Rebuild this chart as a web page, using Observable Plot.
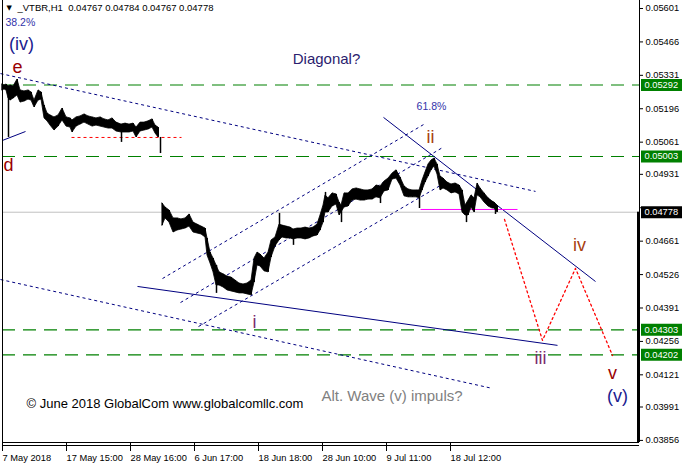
<!DOCTYPE html>
<html><head><meta charset="utf-8">
<script src="https://cdn.jsdelivr.net/npm/d3@7"></script>
<script src="https://cdn.jsdelivr.net/npm/@observablehq/plot@0.6"></script>
<style>html,body{margin:0;padding:0;background:#fff}svg{display:block}</style>
</head><body><div id="chart"></div>
<script>
// ---- price data (H1 bars, sampled envelope) ----
const bar = [2,4,6,8,10,13,17,20,24,28,31,34,38,41,44,47,50,54,58,62,66,70,72,76,80,84,88,92,96,100,104,108,112,116,121,125,129,133,136,140,144,148,152,155,158,
162,165,169,173,177,181,185,189,193,197,201,205,207,210,213,216,219,223,227,231,235,239,243,247,251,254,257,260,264,268,271,275,279,282,286,290,293,297,301,305,309,313,317,320,323,325,328,332,336,339,341,344,348,352,356,360,364,368,372,376,380,384,388,392,396,400,404,408,412,416,419,422,425,428,431,434,437,440,443,447,451,455,459,462,465,468,471,474,477,480,484,488,492,494,497];
const high = [0.05294,0.05290,0.05294,0.05286,0.05290,0.05286,0.05314,0.05270,0.05266,0.05270,0.05262,0.05229,0.05270,0.05262,0.05209,0.05177,0.05169,0.05161,0.05169,0.05197,0.05161,0.05157,0.05149,0.05161,0.05165,0.05173,0.05165,0.05161,0.05157,0.05161,0.05153,0.05149,0.05157,0.05140,0.05132,0.05136,0.05132,0.05136,0.05120,0.05140,0.05140,0.05145,0.05153,0.05128,0.05120,
0.04813,0.04797,0.04785,0.04753,0.04753,0.04749,0.04753,0.04769,0.04736,0.04728,0.04720,0.04712,0.04672,0.04615,0.04591,0.04563,0.04535,0.04527,0.04518,0.04514,0.04502,0.04490,0.04486,0.04490,0.04502,0.04591,0.04615,0.04607,0.04591,0.04615,0.04664,0.04676,0.04728,0.04724,0.04720,0.04716,0.04708,0.04712,0.04712,0.04716,0.04712,0.04716,0.04728,0.04765,0.04805,0.04846,0.04834,0.04854,0.04850,0.04817,0.04805,0.04854,0.04854,0.04870,0.04874,0.04870,0.04866,0.04866,0.04870,0.04886,0.04882,0.04902,0.04914,0.04934,0.04947,0.04918,0.04882,0.04870,0.04866,0.04866,0.04866,0.04906,0.04939,0.04971,0.04987,0.04995,0.04971,0.04922,0.04914,0.04898,0.04890,0.04894,0.04886,0.04866,0.04805,0.04825,0.04846,0.04834,0.04894,0.04874,0.04854,0.04834,0.04821,0.04817,0.04805];
const low = [0.05270,0.05274,0.05270,0.05237,0.05229,0.05237,0.05250,0.05221,0.05225,0.05233,0.05229,0.05201,0.05229,0.05233,0.05157,0.05145,0.05128,0.05108,0.05124,0.05149,0.05124,0.05120,0.05100,0.05124,0.05132,0.05140,0.05132,0.05124,0.05128,0.05124,0.05120,0.05116,0.05116,0.05104,0.05100,0.05100,0.05100,0.05104,0.05080,0.05104,0.05108,0.05112,0.05120,0.05096,0.05080,
0.04724,0.04753,0.04736,0.04696,0.04704,0.04708,0.04712,0.04720,0.04696,0.04692,0.04688,0.04676,0.04603,0.04571,0.04535,0.04482,0.04482,0.04474,0.04462,0.04458,0.04454,0.04450,0.04450,0.04446,0.04442,0.04494,0.04563,0.04559,0.04539,0.04535,0.04595,0.04640,0.04664,0.04676,0.04672,0.04672,0.04668,0.04672,0.04672,0.04668,0.04672,0.04680,0.04684,0.04704,0.04736,0.04777,0.04777,0.04801,0.04809,0.04765,0.04777,0.04797,0.04801,0.04825,0.04829,0.04825,0.04825,0.04829,0.04829,0.04838,0.04834,0.04862,0.04866,0.04910,0.04914,0.04886,0.04842,0.04838,0.04838,0.04838,0.04834,0.04866,0.04898,0.04922,0.04947,0.04963,0.04930,0.04866,0.04874,0.04866,0.04854,0.04858,0.04850,0.04777,0.04765,0.04765,0.04797,0.04777,0.04846,0.04838,0.04817,0.04801,0.04793,0.04793,0.04777];
const secondLegStart = 162;
// long wicks
const wickBar  = [8,121,160,216,279,293,325,341,380,419,466,495];
const wickHigh = [0.05286,0.05132,0.05080,0.04563,0.04773,0.04708,0.04858,0.04805,0.04870,0.04866,0.04797,0.04805];
const wickLow  = [0.05080,0.05060,0.05015,0.04450,0.04680,0.04644,0.04790,0.04736,0.04813,0.04793,0.04736,0.04769];

// ---- price levels & axes ----
const levels = [0.05292, 0.05003, 0.04303, 0.04202];
const lastPrice = 0.04778;
const priceTicks = [0.05601,0.05466,0.05331,0.05196,0.05061,0.04931,0.04796,0.04661,0.04526,0.04391,0.04256,0.04121,0.03991,0.03856];
const hiddenTick = 0.04796; // covered by the last-price box
const timeTickBars = [3,67,131,195,259,323,387,451];
const timeTickLabels = ["7 May 2018","17 May 15:00","28 May 16:00","6 Jun 17:00","18 Jun 18:00","28 Jun 10:00","9 Jul 11:00","18 Jul 12:00"];
const header = "_VTBR,H1  0.04767 0.04784 0.04767 0.04778";

// ---- drawn objects (bar, price) ----
const dottedLines = [[0,0.05338,535,0.04862],[0,0.04506,492,0.04066],[162,0.04510,423,0.05132],[180,0.04413,442,0.05039],[198,0.04316,445,0.04898]];
const solidLines = [[137,0.04478,557,0.04240],[383,0.05161,595,0.04498],[2,0.05068,25,0.05104]];
const redRange = [[71,0.05080,181,0.05080]];
const magentaRange = [[420,0.04789,517,0.04789]];
const projBars = [504,542,575,612];
const projPrices = [0.04749,0.04260,0.04551,0.04199];

// ---- labels ----
const waveText  = ["(iv)","(v)","e","d","v","ii","iv","i","iii"];
const waveBars  = [21,617,17,8,612,430,579,254,540];
const wavePrice = [0.05456,0.04033,0.05363,0.04967,0.04126,0.05080,0.04644,0.04332,0.04187];

const candles = bar.map((b,i)=>({bar:b, high:high[i], low:low[i], leg: b >= secondLegStart ? 2 : 1}));
const wicks = wickBar.map((b,i)=>({bar:b, high:wickHigh[i], low:wickLow[i]}));
const toLink = a => a.map(([x1,y1,x2,y2])=>({x1,y1,x2,y2}));
const proj = projBars.map((b,i)=>({bar:b, price:projPrices[i]}));
const waves = waveText.map((t,i)=>({t, bar:waveBars[i], price:wavePrice[i]}));
const fmt = d3.format(".5f");
const yMin = 0.038476, yMax = 0.056333;
const navy = "#000080";
const F = "Liberation Sans, Arial, sans-serif";

const chart = Plot.plot({
  width: 682, height: 469,
  marginLeft: 2, marginRight: 43, marginTop: 0, marginBottom: 27,
  x: {type: "linear", domain: [2, 639], axis: null},
  y: {domain: [yMin, yMax], axis: null},
  style: {fontFamily: F, fontSize: "9.3px", background: "#fff", color: "#000", overflow: "visible"},
  marks: [
    Plot.axisY(priceTicks, {anchor: "right", tickSize: 3, tickPadding: 3, tickFormat: d => d === hiddenTick ? "" : fmt(d), label: null, fontSize: 9.3}),
    Plot.axisX(timeTickBars, {anchor: "bottom", tickSize: 9, tickPadding: 3, textAnchor: "start", dx: -1,
      tickFormat: d => timeTickLabels[timeTickBars.indexOf(d)], label: null, fontSize: 9.3}),
    Plot.ruleY([lastPrice], {stroke: "#c0c0c0"}),
    Plot.ruleY(levels, {stroke: "#008000", strokeDasharray: "13,8", strokeWidth: 1.2}),
    Plot.link(toLink(dottedLines), {x1: "x1", y1: "y1", x2: "x2", y2: "y2", stroke: navy, strokeDasharray: "3,3"}),
    Plot.link(toLink(solidLines), {x1: "x1", y1: "y1", x2: "x2", y2: "y2", stroke: navy}),
    Plot.link(toLink(redRange), {x1: "x1", y1: "y1", x2: "x2", y2: "y2", stroke: "#ff0000", strokeDasharray: "3,3"}),
    Plot.link(toLink(magentaRange), {x1: "x1", y1: "y1", x2: "x2", y2: "y2", stroke: "#ff00ff"}),
    Plot.line(proj, {x: "bar", y: "price", stroke: "#ff0000", strokeDasharray: "2,3", strokeWidth: 1.3}),
    Plot.areaY(candles, {x: "bar", y1: "low", y2: "high", z: "leg", fill: "#000", stroke: "#000", strokeWidth: 0.8}),
    Plot.ruleX(candles, {x: "bar", y1: "low", y2: "high", stroke: "#000", strokeWidth: 1}),
    Plot.ruleX(wicks, {x: "bar", y1: "low", y2: "high", stroke: "#000", strokeWidth: 1.5}),
    // frame
    Plot.ruleX([2], {stroke: "#000"}),
    Plot.ruleX([639], {stroke: "#000"}),
    Plot.ruleX([639], {y1: lastPrice, y2: yMin, stroke: "#000", strokeWidth: 3, dx: -1}),
    Plot.ruleY([yMin], {stroke: "#000"}),
    Plot.ruleY([yMin], {stroke: "#000", dy: 3}),
    // price boxes on the axis
    Plot.ruleY(levels, {x1: 641, x2: 682, stroke: "#008000", strokeWidth: 12}),
    Plot.ruleY([lastPrice], {x1: 641, x2: 682, stroke: "#000", strokeWidth: 12}),
    Plot.text(levels.concat([lastPrice]), {x: 644, y: d => d, text: fmt, fill: "#fff", textAnchor: "start", fontSize: 9.3}),
    // header
    Plot.text(["\u25BC"], {frameAnchor: "top-left", dx: 4, dy: 5, fontSize: 7, textAnchor: "start", fontFamily: "DejaVu Sans"}),
    Plot.text([header], {frameAnchor: "top-left", dx: 15, dy: 4, fontSize: 9.5, textAnchor: "start"}),
    Plot.text(["38.2%"], {x: 5, y: 0.05544, textAnchor: "start", fill: "#3333aa", fontSize: 10.5}),
    Plot.text(["61.8%"], {x: 431, y: 0.05205, fill: "#3333aa", fontSize: 10.5}),
    Plot.text(["Diagonal?"], {x: 326, y: 0.05395, fill: "#2b1d6e", fontSize: 15}),
    Plot.text(["\u00A9 June 2018 GlobalCom www.globalcomllc.com"], {x: 26, y: 0.04005, textAnchor: "start", fill: "#000", fontSize: 13}),
    Plot.text(["Alt. Wave (v) impuls?"], {x: 321, y: 0.04033, textAnchor: "start", fill: "#808080", fontSize: 15}),
    // wave labels
    Plot.text(waves.slice(0,2), {x: "bar", y: "price", text: "t", fill: "#1b1b8f", fontSize: 18}),
    Plot.text(waves.slice(2,5), {x: "bar", y: "price", text: "t", fill: "#990000", fontSize: 18}),
    Plot.text(waves.slice(5,7), {x: "bar", y: "price", text: "t", fill: "#a8400f", fontSize: 18}),
    Plot.text(waves.slice(7,9), {x: "bar", y: "price", text: "t", fill: "#7a2c6e", fontSize: 18})
  ]
});
document.getElementById("chart").appendChild(chart);
</script>
</body></html>
